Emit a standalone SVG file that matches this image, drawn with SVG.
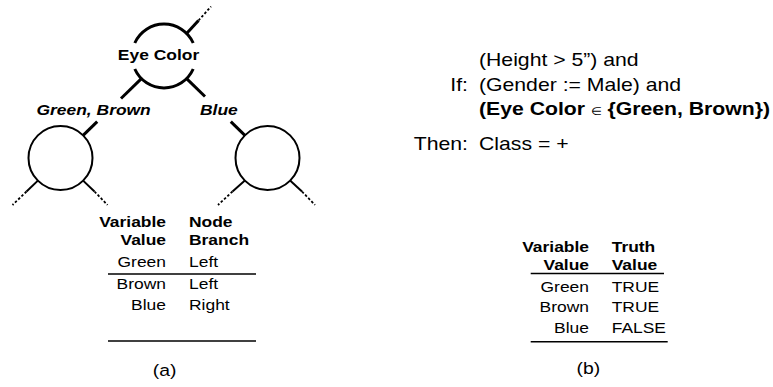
<svg xmlns="http://www.w3.org/2000/svg" width="773" height="387" viewBox="0 0 773 387">
<style>
text{font-family:"Liberation Sans",Arial,Helvetica,sans-serif;fill:#000}
.b{font-weight:bold}
.i{font-style:italic}
.s15{font-size:15.3px}
.s18{font-size:18.6px}
.s17{font-size:17px}
.end{text-anchor:end}
.mid{text-anchor:middle}
.node{fill:none;stroke:#000}
.edge{fill:none;stroke:#000;stroke-width:3}
.stub{fill:none;stroke:#000;stroke-width:2}
.dash{fill:none;stroke:#000;stroke-width:1.8;stroke-dasharray:2.5 2}
.rule{stroke:#000;stroke-width:1.6}
</style>
<rect width="773" height="387" fill="#fff"/>

<g id="connectors">
  <!-- Eye Color to left child, broken by label -->
  <line class="edge" x1="141.4" y1="78.6" x2="121" y2="98.5"/>
  <line class="edge" x1="97.2" y1="121.7" x2="83.1" y2="135.4"/>
  <!-- Eye Color to right child, broken by label -->
  <line class="edge" x1="186.6" y1="78.6" x2="205" y2="96.5"/>
  <line class="edge" x1="230.8" y1="121.7" x2="244.9" y2="135.4"/>
  <!-- stub above Eye Color -->
  <line class="edge" x1="186.6" y1="33.4" x2="198.5" y2="20.5"/>
  <line class="dash" x1="198.5" y1="20.5" x2="211" y2="6.5"/>
  <!-- stubs below left child -->
  <line class="stub" x1="37.9" y1="180.6" x2="26.5" y2="191.5"/>
  <line class="dash" x1="26.5" y1="191.5" x2="12.5" y2="205"/>
  <line class="stub" x1="83.1" y1="180.6" x2="94.5" y2="191.5"/>
  <line class="dash" x1="94.5" y1="191.5" x2="107.5" y2="205"/>
  <!-- stubs below right child -->
  <line class="stub" x1="244.9" y1="180.6" x2="232.5" y2="191.5"/>
  <line class="dash" x1="232.5" y1="191.5" x2="218" y2="205"/>
  <line class="stub" x1="290.1" y1="180.6" x2="302" y2="191.5"/>
  <line class="dash" x1="302" y1="191.5" x2="315" y2="205"/>
</g>

<g id="node-eye-color">
  <path class="node" stroke-width="3" d="M134.8 43 A32 32 0 0 1 193.2 43"/>
  <path class="node" stroke-width="3" d="M193.2 69 A32 32 0 0 1 134.8 69"/>
  <text class="b s15 mid" transform="translate(158.5,59.5) scale(1.14,1)">Eye Color</text>
</g>

<g id="node-left">
  <circle class="node" stroke-width="2" cx="60.5" cy="158" r="32"/>
</g>

<g id="node-right">
  <circle class="node" stroke-width="2" cx="267.5" cy="158" r="32"/>
</g>

<g id="edge-labels">
  <text class="b i s15" transform="translate(36.5,115) scale(1.14,1)">Green, Brown</text>
  <text class="b i s15" transform="translate(200,115) scale(1.14,1)">Blue</text>
</g>

<g id="table-a">
  <text class="b s15 end" transform="translate(166,227) scale(1.14,1)">Variable</text>
  <text class="b s15 end" transform="translate(166,245) scale(1.14,1)">Value</text>
  <text class="b s15" transform="translate(189,227) scale(1.14,1)">Node</text>
  <text class="b s15" transform="translate(189,245) scale(1.14,1)">Branch</text>
  <text class="s15 end" transform="translate(166,267) scale(1.14,1)">Green</text>
  <text class="s15" transform="translate(189,267) scale(1.14,1)">Left</text>
  <line class="rule" x1="108" y1="274" x2="256" y2="274"/>
  <text class="s15 end" transform="translate(166,289) scale(1.14,1)">Brown</text>
  <text class="s15" transform="translate(189,289) scale(1.14,1)">Left</text>
  <text class="s15 end" transform="translate(166,310) scale(1.14,1)">Blue</text>
  <text class="s15" transform="translate(189,310) scale(1.14,1)">Right</text>
  <line class="rule" x1="108" y1="341" x2="256" y2="341"/>
  <text class="s17 mid" transform="translate(164.7,376) scale(1.14,1)">(a)</text>
</g>

<g id="rule">
  <text class="s18" transform="translate(479,66) scale(1.14,1)">(Height &gt; 5”) and</text>
  <text class="s18 end" transform="translate(468,90.5) scale(1.14,1)">If:</text>
  <text class="s18" transform="translate(479,90.5) scale(1.14,1)">(Gender := Male) and</text>
  <text class="s18 b" transform="translate(479,114.5) scale(1.14,1)">(Eye Color <tspan font-weight="normal" font-size="11px">∈</tspan> {Green, Brown})</text>
  <text class="s18 end" transform="translate(468,150) scale(1.14,1)">Then:</text>
  <text class="s18" transform="translate(479,150) scale(1.14,1)">Class = +</text>
</g>

<g id="table-b">
  <text class="b s15 end" transform="translate(589,252) scale(1.14,1)">Variable</text>
  <text class="b s15 end" transform="translate(589,270) scale(1.14,1)">Value</text>
  <text class="b s15" transform="translate(611.7,252) scale(1.14,1)">Truth</text>
  <text class="b s15" transform="translate(611.7,270) scale(1.14,1)">Value</text>
  <line class="rule" x1="530.7" y1="273.5" x2="664" y2="273.5"/>
  <text class="s15 end" transform="translate(589,292.3) scale(1.14,1)">Green</text>
  <text class="s15" transform="translate(611.7,292.3) scale(1.14,1)">TRUE</text>
  <text class="s15 end" transform="translate(589,312.3) scale(1.14,1)">Brown</text>
  <text class="s15" transform="translate(611.7,312.3) scale(1.14,1)">TRUE</text>
  <text class="s15 end" transform="translate(589,332.7) scale(1.14,1)">Blue</text>
  <text class="s15" transform="translate(611.7,332.7) scale(1.14,1)">FALSE</text>
  <line class="rule" x1="530.7" y1="341.7" x2="667.7" y2="341.7"/>
  <text class="s17 mid" transform="translate(588.3,374) scale(1.14,1)">(b)</text>
</g>
</svg>
